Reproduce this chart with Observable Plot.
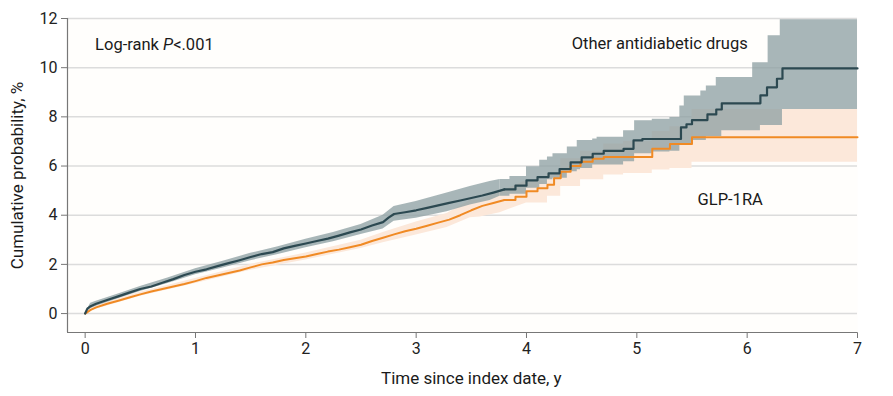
<!DOCTYPE html>
<html>
<head>
<meta charset="utf-8">
<script src="https://cdn.jsdelivr.net/npm/d3@7"></script>
<script src="https://cdn.jsdelivr.net/npm/@observablehq/plot@0.6"></script>
<style>
  html, body { margin: 0; padding: 0; background: #ffffff; }
  #chart svg { display: block; }
</style>
</head>
<body>
<div id="chart"></div>
<script>
// ---- Data ----
// Other antidiabetic drugs: cumulative probability estimate (%)
const otherTime = [0,0.02,0.05,0.1,0.2,0.3,0.4,0.5,0.6,0.7,0.8,0.9,1.0,1.1,1.2,1.3,1.4,1.5,1.6,1.7,1.8,1.9,2.0,2.1,2.2,2.3,2.4,2.5,2.6,2.7,2.75,2.8,2.9,3.0,3.1,3.2,3.3,3.4,3.5,3.6,3.7,3.8,3.9,4.0,4.1,4.2,4.3,4.4,4.5,4.6,4.7,4.88,4.97,5.05,5.4,5.45,5.5,5.64,5.72,5.77,6.12,6.18,6.27,6.32,7.0];
const otherEst  = [0,0.2,0.3,0.4,0.55,0.7,0.85,1.0,1.1,1.25,1.4,1.57,1.7,1.8,1.93,2.05,2.17,2.3,2.42,2.5,2.65,2.75,2.85,2.95,3.05,3.17,3.3,3.42,3.58,3.72,3.9,4.05,4.12,4.2,4.3,4.4,4.5,4.6,4.7,4.8,4.92,5.05,5.2,5.42,5.55,5.7,5.88,6.15,6.35,6.5,6.62,6.7,7.04,7.1,7.57,7.7,7.87,8.1,8.3,8.55,8.87,9.2,9.55,9.97,9.97];
// Other antidiabetic drugs: 95% CI band
const otherBandTime = [0,0.05,0.1,0.3,0.5,0.75,1.0,1.25,1.5,1.75,2.0,2.25,2.5,2.7,2.8,3.0,3.28,3.49,3.67,3.76,3.85,4.0,4.12,4.19,4.24,4.37,4.46,4.49,4.6,4.64,4.88,4.98,5.14,5.3,5.39,5.43,5.5,5.58,5.63,5.72,5.77,6.05,6.12,6.19,6.3,6.32,7.0];
const otherLower = [0,0.2,0.3,0.6,0.9,1.22,1.58,1.85,2.15,2.4,2.68,2.92,3.22,3.44,3.75,3.88,4.14,4.42,4.6,4.77,4.85,5.1,5.25,5.44,5.5,5.77,5.85,5.9,6.04,6.04,6.17,6.5,6.57,6.6,6.84,6.84,7.04,7.04,7.2,7.2,7.44,7.44,7.65,7.65,7.65,8.3,8.3];
const otherUpper = [0,0.42,0.5,0.8,1.1,1.45,1.82,2.13,2.45,2.72,3.02,3.3,3.62,4.0,4.35,4.56,4.9,5.17,5.37,5.45,5.57,5.97,6.24,6.37,6.5,6.77,7.04,7.04,7.1,7.17,7.44,7.84,7.9,7.97,8.44,8.85,8.85,9.05,9.25,9.6,9.6,10.2,10.2,11.3,11.95,11.95,11.95];

// GLP-1RA: cumulative probability estimate (%)
const glpTime = [0,0.05,0.1,0.2,0.3,0.4,0.5,0.6,0.7,0.8,0.9,1.0,1.1,1.2,1.3,1.4,1.5,1.6,1.7,1.8,1.9,2.0,2.1,2.2,2.3,2.4,2.5,2.6,2.7,2.8,2.9,3.0,3.1,3.2,3.3,3.4,3.5,3.6,3.7,3.8,3.9,4.0,4.1,4.19,4.25,4.31,4.4,4.49,4.6,4.7,5.14,5.3,5.5,7.0];
const glpEst  = [0,0.15,0.25,0.4,0.52,0.65,0.78,0.9,1.0,1.1,1.2,1.32,1.45,1.55,1.65,1.75,1.88,2.0,2.08,2.18,2.25,2.32,2.42,2.52,2.6,2.7,2.8,2.95,3.08,3.22,3.35,3.45,3.57,3.7,3.82,4.0,4.2,4.38,4.5,4.62,4.75,4.97,5.1,5.24,5.5,5.77,6.0,6.17,6.3,6.37,6.7,6.9,7.17,7.17];
// GLP-1RA: 95% CI band
const glpBandTime = [0,0.05,0.1,0.5,1.0,1.5,2.0,2.5,2.7,3.0,3.28,3.49,3.58,3.76,4.0,4.19,4.31,4.49,4.7,4.88,5.14,5.3,5.5,7.0];
const glpLower = [0,0.08,0.18,0.7,1.22,1.76,2.18,2.65,2.88,3.2,3.5,3.9,3.93,4.1,4.5,4.77,5.17,5.44,5.64,5.7,5.84,5.9,6.15,6.15];
const glpUpper = [0,0.22,0.33,0.87,1.43,2.0,2.46,2.98,3.3,3.72,4.07,4.6,4.63,4.95,5.4,5.7,6.3,6.6,6.9,7.0,7.4,7.6,8.3,8.3];

// Axis ticks and annotations
const xTicks = [0,1,2,3,4,5,6,7];
const yTicks = [0,2,4,6,8,10,12];
const seriesLabels = [
  {x: 4.41, y: 10.98, text: "Other antidiabetic drugs"},
  {x: 5.55, y: 4.64, text: "GLP-1RA"}
];
const pLabel = [{x: 0.09, y: 10.95, text: "Log-rank P<.001"}];
const xLabel = "Time since index date, y";
const yLabel = "Cumulative probability, %";

// dense (many tiny steps) part drawn linear, sparse part drawn as steps
const splitT = 3.8;

// ---- Build tables ----
const otherLine = otherTime.map((t, i) => ({t, v: otherEst[i]}));
const glpLine = glpTime.map((t, i) => ({t, v: glpEst[i]}));
const otherBand = otherBandTime.map((t, i) => ({t, lo: otherLower[i], hi: otherUpper[i]}));
const glpBand = glpBandTime.map((t, i) => ({t, lo: glpLower[i], hi: glpUpper[i]}));
const early = d => d.filter(r => r.t <= splitT);
const late = d => d.filter(r => r.t >= splitT);
// make the split continuous for series whose grid has no point exactly at splitT
function lateWithJoin(d) {
  const e = d.filter(r => r.t < splitT);
  const l = late(d);
  return e.length ? [e[e.length - 1], ...l] : l;
}
function earlyWithJoin(d) {
  const e = early(d);
  const l = d.filter(r => r.t > splitT);
  return l.length && e[e.length - 1].t < splitT ? [...e, l[0]] : e;
}

const xDom = [-0.16, 7];
const yDom = [-0.77, 12];

const DARK = "#2c4951";
const GRAYBAND = "#8fa2a4";
const ORANGE = "#f08a24";
const ORBAND = "#fce8da";
const FONT = "Roboto, 'Liberation Sans', sans-serif";

const plot = Plot.plot({
  width: 893,
  height: 396,
  marginLeft: 67,
  marginRight: 36,
  marginTop: 18,
  marginBottom: 64,
  style: {fontFamily: FONT, fontSize: "16px", color: "#222", background: "#ffffff"},
  x: {domain: xDom, ticks: xTicks, tickSize: 6, tickPadding: 4, label: null, tickFormat: d => String(d)},
  y: {domain: yDom, ticks: yTicks, tickSize: 6, tickPadding: 4, label: null, tickFormat: d => String(d)},
  marks: [
    Plot.frame({fill: "#fffefc", stroke: null}),
    Plot.ruleY(yTicks, {stroke: "#dcdcdc", strokeWidth: 1.5}),
    // GLP-1RA band
    Plot.areaY(earlyWithJoin(glpBand), {x: "t", y1: "lo", y2: "hi", fill: ORBAND, curve: "linear"}),
    Plot.areaY(lateWithJoin(glpBand).slice(1), {x: "t", y1: "lo", y2: "hi", fill: ORBAND, curve: "step-after"}),
    // Other band
    Plot.areaY(early(otherBand), {x: "t", y1: "lo", y2: "hi", fill: GRAYBAND, fillOpacity: 0.78, curve: "linear"}),
    Plot.areaY(lateWithJoin(otherBand), {x: "t", y1: "lo", y2: "hi", fill: GRAYBAND, fillOpacity: 0.78, curve: "step-after"}),
    // lines
    Plot.line(early(glpLine), {x: "t", y: "v", stroke: ORANGE, strokeWidth: 2, curve: "linear"}),
    Plot.line(late(glpLine), {x: "t", y: "v", stroke: ORANGE, strokeWidth: 2, curve: "step-after"}),
    Plot.line(early(otherLine), {x: "t", y: "v", stroke: DARK, strokeWidth: 2.2, curve: "linear"}),
    Plot.line(late(otherLine), {x: "t", y: "v", stroke: DARK, strokeWidth: 2.2, curve: "step-after"}),
    // axis lines
    Plot.ruleX([xDom[0]], {stroke: "#777", strokeWidth: 1.2}),
    Plot.ruleY([yDom[0]], {stroke: "#777", strokeWidth: 1.2}),
    // annotations
    Plot.text(seriesLabels, {x: "x", y: "y", text: "text", textAnchor: "start", fontSize: 16.5, fill: "#1a1a1a"}),
    Plot.text(pLabel, {x: "x", y: "y", text: "text", textAnchor: "start", fontSize: 16.5, fill: "#1a1a1a"}),
    Plot.text([xLabel], {x: 3.5, y: yDom[0], text: d => d, dy: 46, fontSize: 17, fill: "#1a1a1a"}),
    Plot.text([yLabel], {frameAnchor: "left", textAnchor: "middle", dx: -50, rotate: -90, text: d => d, fontSize: 17, fill: "#1a1a1a"})
  ]
});

// italic P in the log-rank label
plot.querySelectorAll("text").forEach(el => {
  if (el.textContent === "Log-rank P<.001") {
    el.textContent = "";
    const ns = "http://www.w3.org/2000/svg";
    const a = document.createElementNS(ns, "tspan"); a.textContent = "Log-rank ";
    const b = document.createElementNS(ns, "tspan"); b.textContent = "P"; b.setAttribute("font-style", "italic");
    const c = document.createElementNS(ns, "tspan"); c.textContent = "<.001";
    el.append(a, b, c);
  }
});
plot.querySelectorAll("g[aria-label='x-axis tick'], g[aria-label='y-axis tick']").forEach(el => el.setAttribute("stroke", "#777"));

document.getElementById("chart").append(plot);
</script>
</body>
</html>
